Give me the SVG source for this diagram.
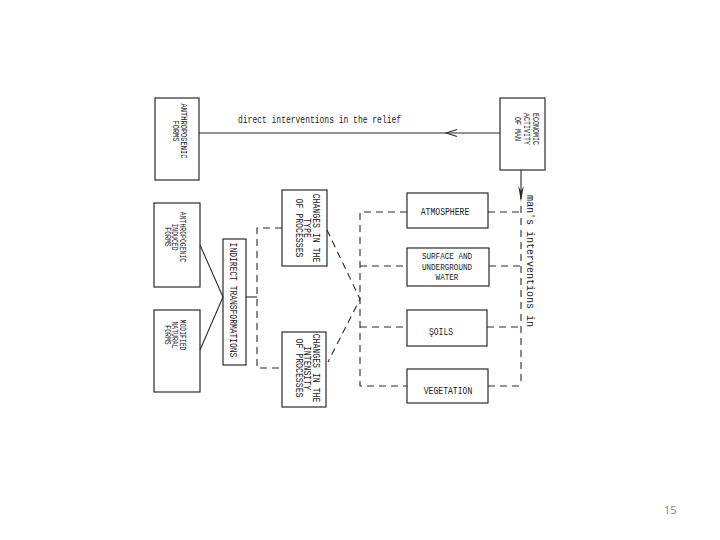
<svg xmlns="http://www.w3.org/2000/svg" width="720" height="540" viewBox="0 0 720 540">
<style>
  .box { fill: none; stroke: #2a2a2a; stroke-width: 1.2; }
  .t { font-family: "Liberation Mono", "DejaVu Sans Mono", monospace; font-size: 10.5px; fill: #222; text-anchor: middle; }
  .s { font-size: 9.5px; }
  .w { font-size: 9.5px; }
  .lc { font-family: "Liberation Mono", "DejaVu Sans Mono", monospace; fill: #222; }
  .ln { fill: none; stroke: #2a2a2a; stroke-width: 1.1; }
  .dash { fill: none; stroke: #2a2a2a; stroke-width: 1.1; stroke-dasharray: 7 5; }
  .pg { font-family: "Open Sans", "Liberation Sans", sans-serif; font-size: 11px; fill: #808080; }
</style>
<rect width="720" height="540" fill="#ffffff"/>

<g id="connectors">
  <path class="ln" d="M199,133 H500"/>
  <path class="ln" d="M457,129.5 L446,133 L457,136.5"/>
  <path class="ln" d="M521,170 V199"/>
  <polygon points="518.3,186 521,202 523.7,186 521,191" fill="#2a2a2a"/>
  <path class="ln" d="M200,245 L223,297 L200,350"/>
  <path class="ln" d="M246,297 H257"/>
  <path class="dash" d="M282,228 H257 V368 H282"/>
  <path class="dash" d="M327,230 L360,299 L328,362"/>
  <path class="dash" d="M407,212 H360 V386 H407"/>
  <path class="dash" d="M360,266 H407"/>
  <path class="dash" d="M360,327 H407"/>
  <path class="dash" d="M488,212 H520"/>
  <path class="dash" d="M489,266 H520"/>
  <path class="dash" d="M487,327 H520"/>
  <path class="dash" d="M488,386 H520"/>
  <path class="dash" d="M521,206 V386"/>
  <g transform="translate(238,123) scale(0.8,1)">
    <text class="lc" x="0" y="0" font-size="10">direct interventions in the relief</text>
  </g>
  <g transform="translate(527,261) rotate(90)">
    <text class="lc" x="0" y="0" font-size="10" text-anchor="middle">man's interventions in</text>
  </g>
</g>

<g id="anthropogenic-forms">
  <rect class="box" x="155" y="98" width="44" height="82"/>
  <g transform="translate(181,131) rotate(90) scale(0.74,1)">
    <text class="t s" x="0" y="-0.5">ANTHROPOGENIC</text>
    <text class="t s" x="0" y="8">FORMS</text>
  </g>
</g>

<g id="economic-activity">
  <rect class="box" x="500" y="98" width="45" height="72"/>
  <g transform="translate(528,129) rotate(90) scale(0.7,1)">
    <text class="t s" x="0" y="-5.5">ECONOMIC</text>
    <text class="t s" x="0" y="3.5">ACTIVITY</text>
    <text class="t s" x="0" y="13">OF MAN</text>
  </g>
</g>

<g id="anthropogenic-induced">
  <rect class="box" x="154" y="203" width="46" height="84"/>
  <g transform="translate(176,237) rotate(90) scale(0.68,1)">
    <text class="t s" x="0" y="-4">ANTHROPOGENIC</text>
    <text class="t s" x="0" y="3.5">INDUCED</text>
    <text class="t s" x="0" y="11">FORMS</text>
  </g>
</g>

<g id="modified-natural">
  <rect class="box" x="154" y="310" width="46" height="82"/>
  <g transform="translate(176,335) rotate(90) scale(0.68,1)">
    <text class="t s" x="0" y="-4">MODIFIED</text>
    <text class="t s" x="0" y="3.5">NATURAL</text>
    <text class="t s" x="0" y="11">FORMS</text>
  </g>
</g>

<g id="indirect-transformations">
  <rect class="box" x="223" y="239" width="23" height="126"/>
  <g transform="translate(234,300) rotate(90) scale(0.76,1)">
    <text class="t" x="0" y="3.5">INDIRECT TRANSFORMATIONS</text>
  </g>
</g>

<g id="changes-type">
  <rect class="box" x="282" y="190" width="45" height="76"/>
  <g transform="translate(308,228) rotate(90) scale(0.78,1)">
    <text class="t" x="0" y="-5.5">CHANGES IN THE</text>
    <text class="t" x="0" y="3.5">TYPE</text>
    <text class="t" x="0" y="12.5">OF PROCESSES</text>
  </g>
</g>

<g id="changes-intensity">
  <rect class="box" x="282" y="332" width="44" height="75"/>
  <g transform="translate(308,368) rotate(90) scale(0.78,1)">
    <text class="t" x="0" y="-5.5">CHANGES IN THE</text>
    <text class="t" x="0" y="3.5">INTENSITY</text>
    <text class="t" x="0" y="12.5">OF PROCESSES</text>
  </g>
</g>

<g id="atmosphere">
  <rect class="box" x="407" y="193" width="81" height="35"/>
  <g transform="translate(445,215) scale(0.77,1)">
    <text class="t" x="0" y="0">ATMOSPHERE</text>
  </g>
</g>

<g id="water">
  <rect class="box" x="407" y="248" width="82" height="38"/>
  <g transform="translate(447,0) scale(0.8,1)">
    <text class="t w" x="0" y="259.5">SURFACE AND</text>
    <text class="t w" x="0" y="269.7">UNDERGROUND</text>
    <text class="t w" x="0" y="279.9">WATER</text>
  </g>
</g>

<g id="soils">
  <rect class="box" x="407" y="310" width="80" height="36"/>
  <g transform="translate(441,335) scale(0.77,1)">
    <text class="t" x="0" y="0">ŞOILS</text>
  </g>
</g>

<g id="vegetation">
  <rect class="box" x="407" y="369" width="81" height="34"/>
  <g transform="translate(448,394) scale(0.77,1)">
    <text class="t" x="0" y="0">VEGETATION</text>
  </g>
</g>

<text class="pg" x="664" y="514">15</text>
</svg>
